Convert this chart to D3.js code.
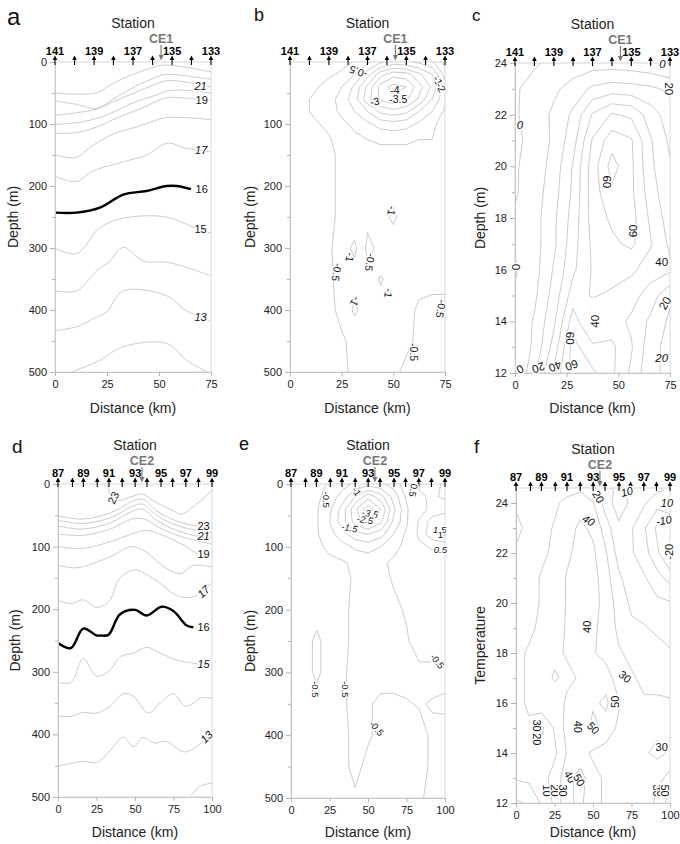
<!DOCTYPE html>
<html>
<head>
<meta charset="utf-8">
<script src="https://cdn.jsdelivr.net/npm/d3@7"></script>
<style>
  body { margin: 0; background: #fff; }
  svg text { font-family: 'Liberation Sans', Arial, sans-serif; }
  .clab { fill: #111; paint-order: stroke; stroke: #fff; stroke-width: 3px; stroke-linejoin: round; }
</style>
</head>
<body>
<svg id="fig" width="680" height="844"></svg>
<script>
// ---------- stations ----------
const kmCE1 = [0, 9.4, 18.8, 28.1, 37.5, 46.9, 56.3, 65.6, 75];
const stnCE1 = [141, 140, 139, 138, 137, 136, 135, 134, 133];
const kmCE2 = [0, 9.4, 16.5, 25.5, 33.1, 41.7, 50.1, 57.8, 66.9, 74.4, 83, 91.2, 100];
const stnCE2 = [87, 88, 89, 90, 91, 92, 93, 94, 95, 96, 97, 98, 99];
const ceKm = { CE1: 51, CE2: 54.5 };

// ---------- panel a: isotherms [km, depth] ----------
const isoA = [
  { t: 23, pts: [[0,50],[20,50],[27,36],[36,22],[46,10],[52,5],[62,8],[75,16]] },
  { t: 22, pts: [[0,63],[10,68],[20,75],[27,62],[36,44],[46,28],[53,20],[62,22],[75,28]] },
  { t: 21, pts: [[0,86],[10,82],[20,76],[28,64],[38,50],[48,36],[54,30],[62,32],[75,40]] },
  { t: 20, pts: [[0,101],[14,96],[26,84],[36,68],[48,54],[55,46],[64,46],[75,50]] },
  { t: 19, pts: [[0,115],[10,114],[20,105],[30,90],[42,74],[53,58],[62,58],[75,62]] },
  { t: 18, pts: [[0,150],[10,154],[18,135],[28,116],[40,104],[53,90],[64,90],[75,93]] },
  { t: 17, pts: [[0,184],[10,193],[18,176],[34,160],[44,150],[54,131],[63,139],[75,145]] },
  { t: 15, pts: [[0,300],[10.4,309],[21.6,267],[32.8,252],[53.7,250],[68,269],[75,276]] },
  { t: 14, pts: [[0,369],[10.4,369],[20,337],[26.4,321],[32.8,299],[42.4,321],[53.7,323],[63,331],[75,345]] },
  { t: 13, pts: [[0,433],[10.4,427],[18.4,414],[24.8,403],[32.8,369],[53.7,377],[63,401],[75,418]] },
  { t: 12, pts: [[8,500],[21.6,481],[32.8,459],[53.7,454],[63.3,481],[73,500]] },
  { t: 16, pts: [[0,243],[10.4,243],[21.6,235],[32.8,214],[44,208],[53.7,200],[58.5,200],[65.4,205]] }
];
const labA = [[70,39,"21",0,true],[70.5,62,"19",0],[70.3,142,"17",0,true],[70.5,205,"16",0],[70,269,"15",0],[70,411,"13",0,true]];

// ---------- panel d: isotherms ----------
const isoD = [
  { t: 24, pts: [[32,0],[35,20],[40,26],[48,20],[55,16],[62,27],[75,43],[80,48],[90,32],[100,10]] },
  { t: 23, pts: [[0,51],[16,56],[34,46],[49,27],[55,24],[64,43],[77,59],[92,68],[100,70]] },
  { t: 22, pts: [[0,58],[16,63],[34,54],[48,36],[55,32],[64,50],[77,66],[92,75],[100,77]] },
  { t: 21, pts: [[0,67],[16,72],[34,62],[48,44],[55,40],[64,58],[77,74],[92,84],[100,86]] },
  { t: 20, pts: [[0,80],[16,82],[34,72],[48,56],[56,56],[66,70],[80,84],[100,96]] },
  { t: 19, pts: [[0,100],[16,103],[34,92],[48,80],[58,74],[70,84],[82,98],[92,112],[100,108]] },
  { t: 18, pts: [[0,130],[12,134],[25,125],[35,115],[48,100],[58,110],[66,127],[75,141],[80,143],[88,130],[100,133]] },
  { t: 17, pts: [[0,186],[8.4,191],[16.4,185],[25,197],[33,188],[40,151],[50,137],[57,144],[67,160],[77,178],[88,180],[100,158]] },
  { t: 15, pts: [[0,317],[8.4,317],[16.4,279],[25.1,307],[33.8,297],[40.3,276],[48.9,270],[57.6,261],[66.2,270],[77,281],[89.9,287],[100,290]] },
  { t: 14, pts: [[0,371],[8.4,371],[16.4,365],[25.1,366],[33.8,355],[42.4,335],[48.9,339],[58.7,366],[66.2,350],[74.9,335],[82.5,355],[87.9,350],[92.3,342],[100,342]] },
  { t: 13, pts: [[0,451],[16.4,443],[25.1,445],[33.8,426],[42.4,404],[48.9,420],[55,405],[63,414],[70,411],[82,428],[92,416],[100,398]] },
  { t: 12, pts: [[85.7,500],[92,483],[100,478]] },
  { t: 16, pts: [[0,254],[8.4,262],[16.4,231],[25.1,242],[27.3,242],[32.7,241],[40.3,208],[50,201],[57.6,210],[67.3,196],[74.9,203],[83.6,226],[87.9,229]] }
];
const labD = [[36,22,"23",-65],[94.5,68,"23",0],[94.5,84,"21",0,true],[94.5,112,"19",0],[94.5,172,"17",-45,true],
  [94.5,228,"16",0],[94.5,288,"15",0,true],[96.5,404,"13",-45,true]];

// ---------- panel b: gridded anomaly ----------
const bKm = [0, 6.25, 12.5, 18.75, 25, 31.25, 37.5, 43.75, 50, 56.25, 62.5, 68.75, 75];
const bDepth = [0, 20, 40, 60, 80, 100, 125, 150, 200, 250, 300, 350, 400, 450, 500];
const bVals = [
  [ 0.0, 0.0,-0.1,-0.2,-0.3,-0.55,-0.9,-1.4,-1.7,-1.6,-1.4,-1.1,-0.3],
  [-0.1,-0.2,-0.3,-0.4,-0.6,-1.0,-1.8,-2.8,-3.3,-3.2,-2.6,-2.0,-0.8],
  [-0.2,-0.3,-0.45,-0.7,-1.0,-1.6,-2.6,-3.7,-4.2,-4.0,-3.2,-2.4,-1.2],
  [-0.2,-0.4,-0.6,-0.8,-1.2,-1.8,-2.8,-3.6,-3.9,-3.6,-2.9,-2.0,-1.1],
  [-0.2,-0.4,-0.6,-0.8,-1.1,-1.5,-2.0,-2.6,-2.8,-2.6,-2.0,-1.5,-0.9],
  [-0.1,-0.3,-0.45,-0.6,-0.9,-1.1,-1.4,-1.7,-1.8,-1.7,-1.4,-1.1,-0.8],
  [-0.1,-0.2,-0.3,-0.45,-0.7,-0.9,-1.0,-1.1,-1.1,-1.1,-1.0,-1.0,-0.9],
  [-0.1,-0.2,-0.3,-0.4,-0.6,-0.7,-0.8,-0.8,-0.8,-0.8,-0.7,-0.7,-0.6],
  [-0.1,-0.2,-0.3,-0.4,-0.6,-0.7,-0.7,-0.7,-0.8,-0.7,-0.6,-0.6,-0.6],
  [-0.1,-0.2,-0.3,-0.4,-0.6,-0.7,-0.6,-0.8,-1.1,-0.7,-0.6,-0.6,-0.6],
  [-0.1,-0.2,-0.3,-0.4,-0.8,-1.1,-0.4,-0.6,-0.7,-0.6,-0.6,-0.6,-0.55],
  [-0.1,-0.2,-0.3,-0.4,-0.7,-0.8,-0.6,-1.05,-0.8,-0.6,-0.6,-0.6,-0.6],
  [-0.1,-0.2,-0.3,-0.4,-0.6,-1.1,-0.7,-0.8,-0.7,-0.6,-0.45,-0.4,-0.4],
  [-0.1,-0.2,-0.3,-0.4,-0.45,-0.6,-0.6,-0.6,-0.6,-0.6,-0.4,-0.3,-0.3],
  [-0.1,-0.2,-0.3,-0.4,-0.4,-0.6,-0.6,-0.6,-0.6,-0.4,-0.3,-0.3,-0.3]
];
const bLevels = [-4, -3.5, -3, -2.5, -2, -1.5, -1, -0.5];
const labB = [[33,16,"-0.5",-160],[50.8,45,"-4",0],[52.4,60,"-3.5",0],[41,64,"-3",-10],[71.5,30,"-1",60],[73,41,"-2",60],
  [49.2,240,"-1",100],[29,315,"-1",100],[38.7,323,"-0.5",100],[22.6,339,"-0.5",100],[31.5,386,"-1",120],
  [47.6,373,"-1",100],[73,398,"-0.5",100],[59.7,468,"-0.5",90]];

// ---------- panel e: gridded anomaly ----------
const eKm = [0, 8.33, 16.67, 25, 33.33, 41.67, 50, 58.33, 66.67, 75, 83.33, 91.67, 100];
const eDepth = [0, 20, 40, 60, 80, 100, 125, 150, 200, 250, 300, 350, 400, 450, 500];
const eVals = [
  [-0.2,-0.3,-0.35,-0.55,-0.8,-1.1,-1.3,-1.1,-0.8,-0.2, 0.6, 0.7, 0.4],
  [-0.2,-0.3,-0.4,-0.7,-1.2,-2.0,-2.8,-2.2,-1.3,-0.4, 0.4, 0.6, 0.4],
  [-0.2,-0.3,-0.45,-0.9,-1.7,-2.9,-3.8,-3.0,-1.6,-0.6, 0.2, 0.7, 0.8],
  [-0.2,-0.4,-0.45,-1.0,-1.8,-2.7,-3.3,-2.6,-1.4,-0.6, 0.6, 1.2, 1.4],
  [-0.2,-0.3,-0.45,-0.8,-1.3,-1.8,-2.0,-1.7,-1.0,-0.4, 0.7, 1.3, 1.6],
  [-0.2,-0.3,-0.4,-0.6,-0.8,-1.1,-1.2,-1.0,-0.7,-0.3, 0.3, 0.6, 0.7],
  [-0.2,-0.3,-0.3,-0.4,-0.45,-0.6,-0.7,-0.6,-0.4,-0.2, 0.0, 0.1, 0.1],
  [-0.2,-0.3,-0.3,-0.35,-0.4,-0.55,-0.6,-0.65,-0.45,-0.3,-0.2,-0.1,-0.1],
  [-0.2,-0.3,-0.3,-0.3,-0.4,-0.6,-0.6,-0.6,-0.6,-0.45,-0.3,-0.2,-0.2],
  [-0.2,-0.3,-0.6,-0.3,-0.4,-0.6,-0.6,-0.7,-0.6,-0.55,-0.3,-0.3,-0.3],
  [-0.2,-0.3,-0.6,-0.3,-0.45,-0.6,-0.6,-0.7,-0.6,-0.6,-0.6,-0.6,-0.6],
  [-0.2,-0.3,-0.3,-0.3,-0.45,-0.6,-0.55,-0.4,-0.45,-0.48,-0.52,-0.48,-0.45],
  [-0.2,-0.3,-0.3,-0.3,-0.4,-0.6,-0.55,-0.4,-0.35,-0.4,-0.4,-0.55,-0.6],
  [-0.2,-0.3,-0.3,-0.3,-0.4,-0.6,-0.4,-0.3,-0.3,-0.3,-0.4,-0.55,-0.6],
  [-0.2,-0.3,-0.3,-0.3,-0.35,-0.45,-0.3,-0.3,-0.3,-0.3,-0.45,-0.6,-0.6]
];
const eLevels = [-3.5, -3, -2.5, -2, -1.5, -1, -0.5, 0.5, 1, 1.5];
const labE = [[23.2,25,"-0.5",90],[42.6,12,"-1",60],[51.3,47,"-3.5",10,true],[48,57,"-2.5",10,true],[38,70,"-1.5",10,true],
  [79.4,10,"0.5",100],[96.5,72,"1.5",0,true],[97,80,"1",0],[97,104,"0.5",0,true],
  [16,327,"-0.5",90],[35,327,"-0.5",90],[55.6,389,"-0.5",50],[95,282,"-0.5",50]];

// ---------- panel c: gridded value vs temperature ----------
const cKm = [0, 9.4, 18.8, 28.1, 37.5, 46.9, 56.3, 65.6, 75];
const cTemp = [24, 23, 22, 21, 20, 19, 18, 17, 16, 15, 14, 13, 12];
const cVals = [
  [-2, -1,  2,  4,  5,  5,  4,  2, -1],
  [-1,  3,  8, 14, 22, 25, 24, 22, 18],
  [-1,  4, 12, 22, 41, 51, 48, 35, 25],
  [-2,  3, 12, 26, 51, 66, 61, 41, 28],
  [-1,  4, 14, 31, 55, 74, 62, 42, 31],
  [-1,  5, 16, 32, 55, 68, 62, 45, 32],
  [ 1,  6, 18, 34, 54, 62, 64, 48, 35],
  [ 1,  6, 18, 36, 52, 58, 62, 51, 38],
  [-1,  6, 21, 38, 51, 55, 52, 45, 42],
  [ 1,  8, 24, 45, 51, 48, 44, 35, 22],
  [ 2, 11, 28, 55, 38, 45, 38, 28, 18],
  [ 1, 12, 34, 64, 52, 52, 41, 24, 16],
  [-1, 18, 42, 65, 62, 52, 38, 22, 18]
];
const cLevels = [0, 10, 20, 30, 40, 50, 60, 70];
const labC = [[71.3,23.97,"0",0,true],[74.5,23.0,"20",90],[2.4,21.6,"0",0,true],[44.4,19.4,"60",90],[57.2,17.5,"60",-90],
  [71,16.3,"40",0],[0.5,16.1,"0",-90],[72.6,14.7,"20",-60],[38.7,14.0,"40",-90],[26.6,13.35,"60",90],
  [71,12.6,"20",0,true],[2.4,12.15,"0",-30],[11.3,12.2,"20",160],[19.4,12.25,"40",160],[27.4,12.3,"60",160]];

// ---------- panel f: gridded value vs temperature ----------
const fKm = [0, 8.33, 16.67, 25, 33.33, 41.67, 50, 58.33, 66.67, 75, 83.33, 91.67, 100];
const fTemp = [24.5, 24, 23, 22, 21, 20, 19, 18, 17, 16, 15, 14, 13, 12];
const fVals = [
  [21, 21, 23, 25, 27, 29, 23, 13,  8, 12, 12, 11,  9],
  [21, 23, 25, 28, 33, 36, 31, 15,  5, 12, 11,  4, 11],
  [18, 22, 26, 31, 36, 42, 38, 25, 12, 11,  1,-12,-14],
  [21, 24, 28, 32, 38, 44, 42, 31, 16, 11,  4, -8,-23],
  [22, 26, 31, 34, 41, 46, 44, 34, 22, 14, 11,  4, -4],
  [24, 26, 31, 34, 41, 46, 44, 36, 26, 18, 14, 12, 11],
  [26, 28, 32, 36, 41, 44, 42, 36, 28, 22, 21, 18, 16],
  [28, 31, 34, 38, 41, 42, 41, 36, 31, 28, 26, 24, 21],
  [28, 31, 36, 41, 38, 41, 42, 46, 34, 31, 28, 28, 26],
  [26, 32, 38, 34, 42, 46, 48, 52, 41, 32, 31, 31, 31],
  [24, 28, 18, 31, 44, 41, 54, 46, 38, 34, 32, 32, 32],
  [22, 26, 24, 28, 41, 44, 38, 36, 34, 32, 31, 28, 31],
  [21, 22, 26, 34, 46, 54, 44, 38, 34, 32, 31, 36, 44],
  [ 8, 12, 21, 32, 48, 52, 44, 38, 34, 32, 31, 44, 54]
];
const fLevels = [-20, -10, 0, 10, 20, 30, 40, 50];
const labF = [[53.4,24.25,"20",60],[72,24.45,"10",-15,true],[98,24.0,"10",0,true],[96,23.3,"-10",-10,true],[99.5,22.05,"-20",-90],
  [47,23.3,"40",30,true],[45.9,19.05,"40",-90],[70.8,17.05,"30",40],[64.3,16.05,"50",-90],[40,15.05,"40",90],
  [50.2,15.0,"50",45],[13.4,15.1,"30",90],[13.4,14.55,"20",90],[94.6,14.25,"30",0],
  [19.9,12.5,"10",90],[25.3,12.5,"20",90],[30.7,12.5,"30",90],[35,13.05,"40",60],[41,12.92,"50",60],
  [91.3,12.5,"30",90],[94,12.5,"40",90],[96.7,12.5,"50",90]];

// ---------- drawing ----------
const svg = d3.select("#fig");
const defs = svg.append("defs");
const lineCol = "#c4c4c4";
const font = "'Liberation Sans', Arial, sans-serif";

function styleAxis(sel) {
  sel.attr("font-family", font).attr("font-size", 11);
  sel.select(".domain").attr("stroke", "#c8c8c8");
  sel.selectAll(".tick line").attr("stroke", "#b4b4b4");
  sel.selectAll(".tick text").attr("fill", "#222");
}

function makePanel(o) {
  const x = d3.scaleLinear().domain(o.xDom).range([o.x0, o.x1]);
  const y = d3.scaleLinear().domain(o.yDom).range([o.yTop, o.yBot]);
  const g = svg.append("g");
  const cid = "clip-" + o.letter;
  defs.append("clipPath").attr("id", cid).append("rect")
    .attr("x", o.x0).attr("y", o.yTop).attr("width", o.x1 - o.x0).attr("height", o.yBot - o.yTop);

  g.append("rect").attr("x", o.x0).attr("y", o.yTop).attr("width", o.x1 - o.x0).attr("height", o.yBot - o.yTop)
    .attr("fill", "none").attr("stroke", "#d8d8d8");
  const plot = g.append("g").attr("clip-path", `url(#${cid})`);

  g.append("g").attr("transform", `translate(${o.x0},0)`)
    .call(d3.axisLeft(y).tickValues(o.yMinor).tickSize(3).tickFormat("").tickSizeOuter(0)).call(styleAxis);
  g.append("g").attr("transform", `translate(${o.x0},0)`)
    .call(d3.axisLeft(y).tickValues(o.yTicks).tickSize(5).tickPadding(3).tickSizeOuter(0)).call(styleAxis);
  g.append("g").attr("transform", `translate(0,${o.yBot})`)
    .call(d3.axisBottom(x).tickValues(o.xTicks).tickSize(4).tickPadding(4).tickSizeOuter(0)).call(styleAxis);

  const mid = (o.x0 + o.x1) / 2;
  g.append("text").attr("x", mid).attr("y", o.xLabY).attr("text-anchor", "middle")
    .attr("font-size", 14).attr("fill", "#222").text("Distance (km)");
  g.append("text").attr("transform", `translate(${o.yLabX},${(o.yTop + o.yBot) / 2}) rotate(-90)`)
    .attr("text-anchor", "middle").attr("dy", "0.35em").attr("font-size", 14).attr("fill", "#222").text(o.yLabel);
  g.append("text").attr("x", mid).attr("y", o.yTop - 34).attr("text-anchor", "middle")
    .attr("font-size", 14).attr("fill", "#222").text("Station");
  g.append("text").attr("x", o.lx).attr("y", o.ly).attr("font-family", "'Liberation Serif','Times New Roman',serif")
    .attr("font-size", o.lsize).attr("fill", "#111").text(o.letter);

  // station arrows
  o.kms.forEach((k, i) => {
    const sx = x(k);
    g.append("line").attr("x1", sx).attr("x2", sx).attr("y1", o.yTop + 3).attr("y2", o.yTop - 3)
      .attr("stroke", "#000").attr("stroke-width", 1.1);
    g.append("path").attr("d", `M${sx - 2.3},${o.yTop - 2}L${sx},${o.yTop - 6.5}L${sx + 2.3},${o.yTop - 2}Z`).attr("fill", "#000");
    if (i % 2 === 0) {
      g.append("text").attr("x", sx).attr("y", o.yTop - 7.5).attr("text-anchor", "middle")
        .attr("font-size", 11).attr("font-weight", "bold").attr("fill", "#000").text(o.stns[i]);
    }
  });
  // eddy marker
  const ex = x(o.ce);
  g.append("text").attr("x", ex).attr("y", o.yTop - 19).attr("text-anchor", "middle")
    .attr("font-size", 12.5).attr("font-weight", "bold").attr("fill", "#777").text(o.ceName);
  g.append("line").attr("x1", ex).attr("x2", ex).attr("y1", o.yTop - 17).attr("y2", o.yTop - 6)
    .attr("stroke", "#777").attr("stroke-width", 1.1);
  g.append("path").attr("d", `M${ex - 2.5},${o.yTop - 7}L${ex},${o.yTop - 1.5}L${ex + 2.5},${o.yTop - 7}Z`).attr("fill", "#777");

  return { g, plot, x, y };
}

function drawIso(p, iso) {
  const line = d3.line().x(d => p.x(d[0])).y(d => p.y(d[1])).curve(d3.curveCatmullRom.alpha(0.5));
  p.plot.selectAll(null).data(iso).join("path")
    .attr("d", d => line(d.pts)).attr("fill", "none")
    .attr("stroke", d => d.t === 16 ? "#000" : lineCol)
    .attr("stroke-width", d => d.t === 16 ? 2.4 : 0.9);
}

function drawGrid(p, vals, cols, rows, levels) {
  const n = cols.length, m = rows.length;
  const ix = d3.scaleLinear().domain(d3.range(n)).range(cols);
  const iy = d3.scaleLinear().domain(d3.range(m)).range(rows);
  const tr = d3.geoTransform({
    point(px, py) { this.stream.point(p.x(ix(px - 0.5)), p.y(iy(py - 0.5))); }
  });
  const path = d3.geoPath(tr);
  const cs = d3.contours().size([n, m]).thresholds(levels)(vals.flat());
  p.plot.selectAll(null).data(cs).join("path")
    .attr("d", path).attr("fill", "none").attr("stroke", lineCol).attr("stroke-width", 0.9);
}

function drawLabels(p, labs, size) {
  p.g.selectAll(null).data(labs).join("text").attr("class", "clab")
    .attr("transform", d => `translate(${p.x(d[0])},${p.y(d[1])}) rotate(${d[3] || 0})`)
    .attr("text-anchor", "middle").attr("dy", "0.35em").attr("font-size", size)
    .style("font-style", d => d[4] ? "italic" : null).text(d => d[2]);
}

const depthTicks = [0, 100, 200, 300, 400, 500];
const depthMinor = [50, 150, 250, 350, 450];
const tempTicks = [12, 14, 16, 18, 20, 22, 24];
const tempMinor = [13, 15, 17, 19, 21, 23];

// a
const pa = makePanel({ letter: "a", lx: 7, ly: 25, lsize: 24, x0: 55, x1: 211, yTop: 62, yBot: 372, xLabY: 413,
  xDom: [0, 75], yDom: [0, 500], xTicks: [0, 25, 50, 75], yTicks: depthTicks, yMinor: depthMinor,
  yLabel: "Depth (m)", yLabX: 13, kms: kmCE1, stns: stnCE1, ce: ceKm.CE1, ceName: "CE1" });
drawIso(pa, isoA);
drawLabels(pa, labA, 11);

// b
const pb = makePanel({ letter: "b", lx: 254, ly: 21, lsize: 18, x0: 290, x1: 445, yTop: 62, yBot: 372, xLabY: 413,
  xDom: [0, 75], yDom: [0, 500], xTicks: [0, 25, 50, 75], yTicks: [100, 200, 300, 400, 500], yMinor: depthMinor,
  yLabel: "Depth (m)", yLabX: 250, kms: kmCE1, stns: stnCE1, ce: ceKm.CE1, ceName: "CE1" });
drawGrid(pb, bVals, bKm, bDepth, bLevels);
drawLabels(pb, labB, 10.5);

// c
const pc = makePanel({ letter: "c", lx: 472, ly: 21, lsize: 17, x0: 515, x1: 670, yTop: 63, yBot: 373, xLabY: 413,
  xDom: [0, 75], yDom: [24, 12], xTicks: [0, 25, 50, 75], yTicks: tempTicks, yMinor: tempMinor,
  yLabel: "Depth (m)", yLabX: 480, kms: kmCE1, stns: stnCE1, ce: ceKm.CE1, ceName: "CE1" });
drawGrid(pc, cVals, cKm, cTemp, cLevels);
drawLabels(pc, labC, 11.5);

// d
const pd = makePanel({ letter: "d", lx: 12, ly: 453, lsize: 19, x0: 58, x1: 212, yTop: 484, yBot: 797, xLabY: 837,
  xDom: [0, 100], yDom: [0, 500], xTicks: [0, 25, 50, 75, 100], yTicks: depthTicks, yMinor: depthMinor,
  yLabel: "Depth (m)", yLabX: 15, kms: kmCE2, stns: stnCE2, ce: ceKm.CE2, ceName: "CE2" });
drawIso(pd, isoD);
drawLabels(pd, labD, 11);

// e
const pe = makePanel({ letter: "e", lx: 239, ly: 450, lsize: 18, x0: 291, x1: 445, yTop: 484, yBot: 798, xLabY: 837,
  xDom: [0, 100], yDom: [0, 500], xTicks: [0, 25, 50, 75, 100], yTicks: depthTicks, yMinor: depthMinor,
  yLabel: "Depth (m)", yLabX: 250, kms: kmCE2, stns: stnCE2, ce: ceKm.CE2, ceName: "CE2" });
drawGrid(pe, eVals, eKm, eDepth, eLevels);
drawLabels(pe, labE, 9.5);

// f
const pf = makePanel({ letter: "f", lx: 474, ly: 453, lsize: 19, x0: 516, x1: 670, yTop: 488, yBot: 803, xLabY: 837,
  xDom: [0, 100], yDom: [24.6, 12], xTicks: [0, 25, 50, 75, 100], yTicks: tempTicks, yMinor: tempMinor,
  yLabel: "Temperature", yLabX: 480, kms: kmCE2, stns: stnCE2, ce: ceKm.CE2, ceName: "CE2" });
drawGrid(pf, fVals, fKm, fTemp, fLevels);
drawLabels(pf, labF, 11);
</script>
</body>
</html>
